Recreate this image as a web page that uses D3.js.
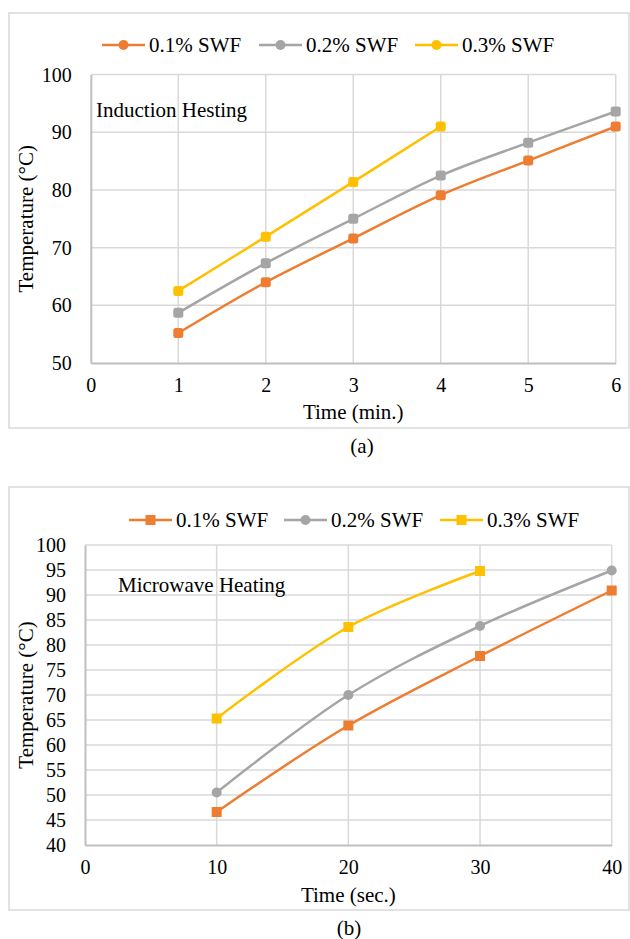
<!DOCTYPE html>
<html>
<head>
<meta charset="utf-8">
<script src="https://cdn.jsdelivr.net/npm/d3@7"></script>
<style>
  body { margin: 0; background: #fff; }
  svg text { font-family: "Liberation Serif", "Times New Roman", serif; fill: #000; }
</style>
</head>
<body>
<svg id="chart" width="630" height="939" font-family="Liberation Serif, serif"></svg>
<script>
// chart (a): induction heating
const timeMin = [1, 2, 3, 4, 5, 6];
const ind01 = [55.2, 64.0, 71.6, 79.1, 85.1, 91.0];
const ind02 = [58.7, 67.3, 75.0, 82.5, 88.2, 93.6];
const ind03 = [62.5, 71.9, 81.4, 91.0];
const xTicksA = [0, 1, 2, 3, 4, 5, 6];
const yTicksA = [50, 60, 70, 80, 90, 100];

// chart (b): microwave heating
const timeSec = [10, 20, 30, 40];
const mw01 = [46.6, 63.9, 77.8, 90.9];
const mw02 = [50.5, 70.0, 83.8, 94.9];
const mw03 = [65.3, 83.6, 94.8];
const xTicksB = [0, 10, 20, 30, 40];
const yTicksB = [40, 45, 50, 55, 60, 65, 70, 75, 80, 85, 90, 95, 100];

const seriesNames = ["0.1% SWF", "0.2% SWF", "0.3% SWF"];
const colors = ["#ED7D31", "#A5A5A5", "#FFC000"];
const FONT = "Liberation Serif, serif";
const FS = "21px";
const TICK_FS = "20px";

const svg = d3.select("#chart");

function drawMarker(g, shape, cx, cy, color) {
  if (shape === "circle") {
    g.append("circle").attr("cx", cx).attr("cy", cy).attr("r", 5).attr("fill", color);
  } else {
    const r = shape === "round" ? 2.5 : 0;
    g.append("rect").attr("x", cx - 5).attr("y", cy - 5).attr("width", 10).attr("height", 10)
      .attr("rx", r).attr("fill", color);
  }
}

function label(g, x, y, txt, anchor) {
  return g.append("text").attr("x", x).attr("y", y).attr("dy", "0.35em")
    .attr("text-anchor", anchor || "start")
    .attr("font-family", FONT).style("font-size", FS).text(txt);
}

function panel(cfg) {
  const g = svg.append("g");

  g.append("rect")
    .attr("x", 9).attr("y", cfg.frameTop).attr("width", 620).attr("height", cfg.frameBottom - cfg.frameTop)
    .attr("fill", "none").attr("stroke", "#d9d9d9").attr("stroke-width", 1.5);

  const x = d3.scaleLinear().domain(d3.extent(cfg.xTicks)).range([cfg.left, cfg.right]);
  const y = d3.scaleLinear().domain(d3.extent(cfg.yTicks)).range([cfg.bottom, cfg.top]);

  // grid
  g.append("g").selectAll("line").data(cfg.yTicks.slice(1)).join("line")
    .attr("x1", cfg.left).attr("x2", cfg.right)
    .attr("y1", d => y(d)).attr("y2", d => y(d))
    .attr("stroke", "#d9d9d9").attr("stroke-width", 1.5);
  g.append("g").selectAll("line").data(cfg.xTicks.slice(1)).join("line")
    .attr("x1", d => x(d)).attr("x2", d => x(d))
    .attr("y1", cfg.top).attr("y2", cfg.bottom)
    .attr("stroke", "#d9d9d9").attr("stroke-width", 1.5);

  // axes
  const yAxis = g.append("g").attr("transform", `translate(${cfg.left},0)`)
    .call(d3.axisLeft(y).tickValues(cfg.yTicks).tickFormat(d3.format("d")).tickSize(0).tickPadding(19));
  const xAxis = g.append("g").attr("transform", `translate(0,${cfg.bottom})`)
    .call(d3.axisBottom(x).tickValues(cfg.xTicks).tickFormat(d3.format("d")).tickSize(0).tickPadding(15));
  [xAxis, yAxis].forEach(a => {
    a.attr("font-family", FONT).attr("font-size", null);
    a.select(".domain").attr("stroke", "#bfbfbf").attr("stroke-width", 2);
    a.selectAll("text").style("font-size", TICK_FS).attr("fill", "#000");
  });

  // lines
  const line = d3.line().x(d => x(d[0])).y(d => y(d[1])).curve(d3.curveCatmullRom.alpha(0.5));
  cfg.series.forEach((s, i) => {
    const pts = s.map((v, j) => [cfg.xs[j], v]);
    g.append("path").datum(pts).attr("d", line)
      .attr("fill", "none").attr("stroke", colors[i]).attr("stroke-width", 2.5);
    pts.forEach(p => drawMarker(g, cfg.shapes[i], x(p[0]), y(p[1]), colors[i]));
  });

  // legend
  cfg.legendX.forEach((lx, i) => {
    g.append("line").attr("x1", lx).attr("x2", lx + 43).attr("y1", cfg.legendY).attr("y2", cfg.legendY)
      .attr("stroke", colors[i]).attr("stroke-width", 2.5);
    drawMarker(g, cfg.legendShapes[i], lx + 21.5, cfg.legendY, colors[i]);
    label(g, lx + 47, cfg.legendY, seriesNames[i]);
  });

  label(g, cfg.noteX, cfg.noteY, cfg.note);

  label(g, 0, 0, "Temperature (°C)", "middle")
    .attr("transform", `translate(26,${(cfg.top + cfg.bottom) / 2}) rotate(-90)`);

  label(g, (cfg.left + cfg.right) / 2, cfg.xTitleY, cfg.xTitle, "middle");
  label(g, cfg.capX, cfg.capY, cfg.caption, "middle");
}

panel({
  frameTop: 13, frameBottom: 428,
  left: 90.8, right: 615.7, top: 74.6, bottom: 363,
  xTicks: xTicksA, yTicks: yTicksA,
  xs: timeMin, series: [ind01, ind02, ind03],
  shapes: ["round", "round", "round"], legendShapes: ["circle", "circle", "circle"],
  legendX: [102, 259, 415], legendY: 45,
  note: "Induction Hesting", noteX: 96, noteY: 110,
  xTitle: "Time (min.)", xTitleY: 412,
  caption: "(a)", capX: 362, capY: 446
});

panel({
  frameTop: 487, frameBottom: 910,
  left: 85, right: 611.7, top: 545, bottom: 845,
  xTicks: xTicksB, yTicks: yTicksB,
  xs: timeSec, series: [mw01, mw02, mw03],
  shapes: ["square", "circle", "square"], legendShapes: ["square", "circle", "square"],
  legendX: [129, 284, 440], legendY: 520,
  note: "Microwave Heating", noteX: 118, noteY: 585,
  xTitle: "Time (sec.)", xTitleY: 895,
  caption: "(b)", capX: 349, capY: 928
});
</script>
</body>
</html>
